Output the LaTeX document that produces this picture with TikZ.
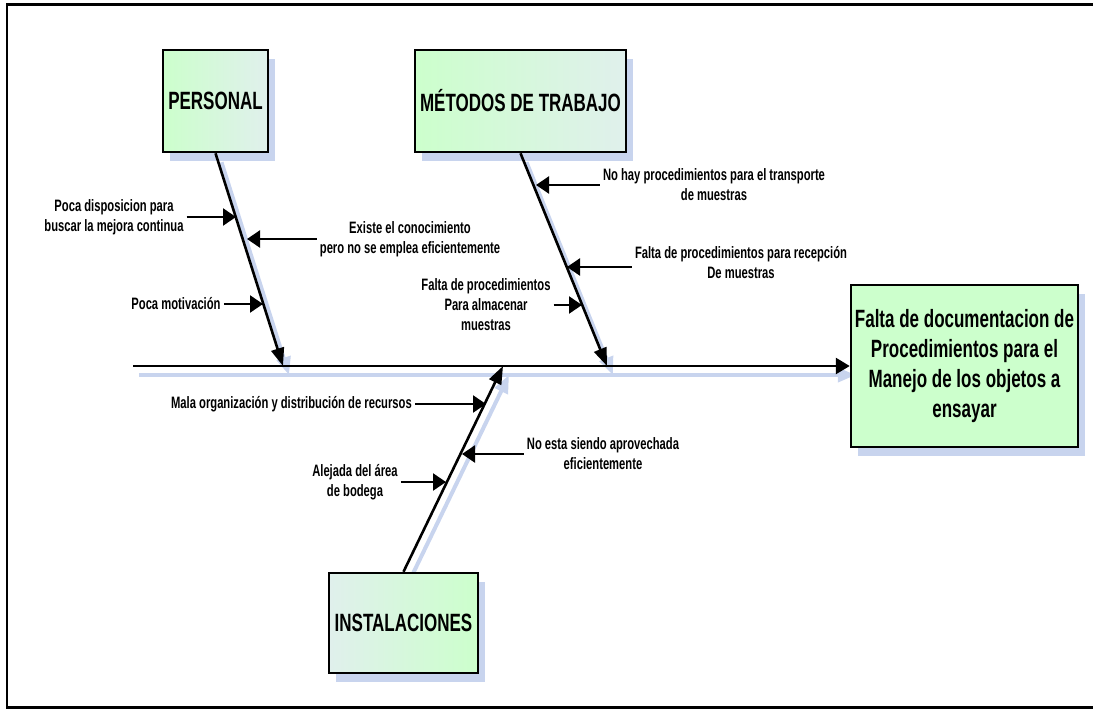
\documentclass[tikz,border=0pt]{standalone}
\usepackage{fontspec}
\setmainfont{Liberation Sans}[FakeStretch=0.68]
\usetikzlibrary{arrows.meta,shadows,backgrounds}

\definecolor{boxgreen}{RGB}{204,255,204}
\definecolor{boxcyan}{RGB}{224,240,236}
\definecolor{shadowblue}{RGB}{200,212,238}

\tikzset{
  cause/.style={draw,line width=2.5pt,inner sep=0pt,
    drop shadow={shadow xshift=7pt,shadow yshift=-9pt,fill=shadowblue,opacity=1},
    font=\fontsize{25}{30}\selectfont\bfseries},
  note/.style={align=center,inner sep=3pt,font=\fontsize{16.5}{20}\selectfont\bfseries},
  spine/.style={line width=2.6pt,-{Triangle[length=14pt,width=16pt]}},
  bone/.style={line width=2.6pt,-{Triangle[length=18pt,width=13pt]}},
  twig/.style={line width=2.3pt,-{Triangle[length=13pt,width=17pt]}},
  shade line/.style={draw=shadowblue,line width=4pt,-{Triangle[length=18pt,width=14pt]}}
}

\begin{document}
\begin{tikzpicture}[x=1pt,y=-1pt]
\useasboundingbox (0,0) rectangle (1093,709);
\draw[line width=2.5pt] (1093,4.5) -- (7,4.5) -- (7,707.5) -- (1093,707.5);

% efecto y categorias
\node[cause,fill=boxgreen,minimum width=227pt,minimum height=162pt] (efecto) at (964.5,366)
  {\raisebox{9pt}{\begin{tabular}{@{}c@{}}Falta de documentacion de\\Procedimientos para el\\Manejo de los objetos a\\ensayar\end{tabular}}};
\node[cause,left color=boxgreen,right color=boxcyan,minimum width=105pt,minimum height=102pt] (personal) at (215.5,101) {PERSONAL};
\node[cause,left color=boxgreen,right color=boxcyan,minimum width=211pt,minimum height=102pt] (metodos) at (520.5,101) {MÉTODOS DE TRABAJO};
\node[cause,left color=boxcyan,right color=boxgreen,minimum width=149pt,minimum height=100pt] (instal) at (403.5,623) {INSTALACIONES};

% espina
\coordinate (cola) at (133,366);
\coordinate (pT) at (283,366);
\coordinate (mT) at (607,366);
\coordinate (iT) at (503,366);
\draw[spine] (cola) -- (efecto);
\draw[bone] (personal.south) -- (pT);
\draw[bone] (metodos.south) -- (mT);
\draw[bone] (instal.north) -- (iT);

\begin{scope}[on background layer]
  \draw[shade line] ([shift={(6,9)}]cola) -- ([shift={(6,9)}]efecto.west);
  \draw[shade line] ([shift={(6,9)}]personal.south) -- ([shift={(6,9)}]pT);
  \draw[shade line] ([shift={(6,9)}]metodos.south) -- ([shift={(6,9)}]mT);
  \draw[shade line] ([shift={(6,9)}]instal.north) -- ([shift={(6,9)}]iT);
\end{scope}

% causas de personal
\node[note] (dispo) at (114,217) {Poca disposicion para\\buscar la mejora continua};
\node[note] (conoc) at (410,239) {Existe el conocimiento\\pero no se emplea eficientemente};
\node[note] (motiv) at (176,304) {Poca motivación};
\coordinate (dT) at (236,217);
\coordinate (cT) at (247,239);
\coordinate (moT) at (263,304);
\draw[twig] (dispo.east) -- (dT);
\draw[twig] (conoc.west) -- (cT);
\draw[twig] (motiv.east) -- (moT);

% causas de metodos
\node[note] (transp) at (714,185) {No hay procedimientos para el transporte\\de muestras};
\node[note] (recep) at (741,263) {Falta de procedimientos para recepción\\De muestras};
\node[note] (almac) at (486,305) {Falta de procedimientos\\Para almacenar\\muestras};
\coordinate (tT) at (536,185);
\coordinate (rT) at (567,267);
\coordinate (aT) at (582,305);
\draw[twig] (transp.west) -- (tT);
\draw[twig] (recep.west |- rT) -- (rT);
\draw[twig] (almac.east) -- (aT);

% causas de instalaciones
\node[note,anchor=east] (mala) at (415,404) {Mala organización y distribución de recursos};
\node[note] (noesta) at (603,454) {No esta siendo aprovechada\\eficientemente};
\node[note] (alejada) at (355,482) {Alejada del área\\de bodega};
\coordinate (maT) at (486,404);
\coordinate (nT) at (462,454);
\coordinate (alT) at (446,482);
\draw[twig] (mala.east) -- (maT);
\draw[twig] (noesta.west) -- (nT);
\draw[twig] (alejada.east) -- (alT);
\end{tikzpicture}
\end{document}
